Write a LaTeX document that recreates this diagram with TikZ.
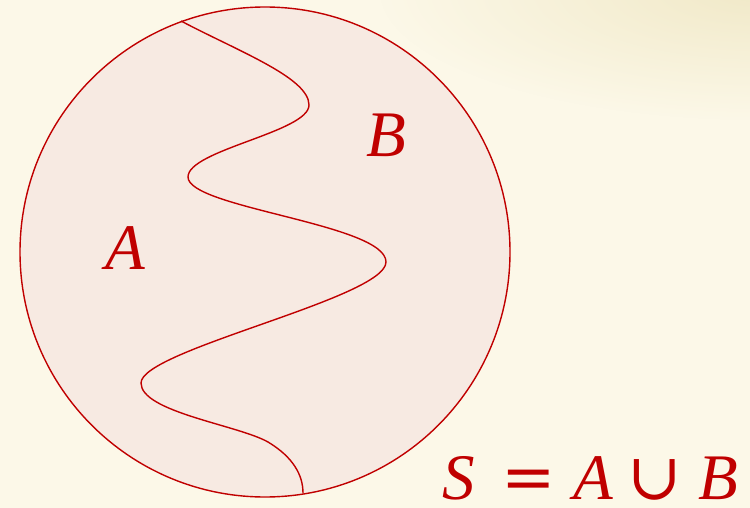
\documentclass[tikz,border=0pt]{standalone}
\usepackage{fontspec}
\setmainfont{Liberation Serif}
\newfontfamily\symf{DejaVu Serif}
\usetikzlibrary{fadings}
\definecolor{bgc}{HTML}{FCF8E8}
\definecolor{topc}{HTML}{F1E9C8}
\definecolor{fillc}{HTML}{F7EAE2}
\definecolor{redc}{HTML}{C00000}
\tikzfading[name=radfade, inner color=transparent!0, outer color=transparent!100]
\tikzset{
  setline/.style={draw=redc, line width=1.4pt},
  lbl/.style={text=redc, inner sep=0pt, font=\fontsize{65}{72}\selectfont\itshape}
}
\begin{document}
\begin{tikzpicture}[x=1pt,y=-1pt]
\useasboundingbox (0,0) rectangle (750,508);
\fill[bgc] (0,0) rectangle (750,508);
\begin{scope}
\clip (0,0) rectangle (750,508);
\fill[topc, path fading=radfade] (760,-10) ellipse [x radius=380, y radius=130];
\end{scope}
\node[circle, fill=fillc, setline, minimum size=490pt, inner sep=0pt] (S) at (265,252) {};
\coordinate (t) at (181,21);
\coordinate (b) at (303,493);
\draw[redc, line width=1.4pt] (t) .. controls (240,52) and (309,78) .. (309,105)
  .. controls (309,132) and (188,150) .. (188,177)
  .. controls (188,208) and (386,224) .. (386,262)
  .. controls (386,298) and (141,350) .. (141,383)
  .. controls (141,412) and (238,425) .. (268,442)
  .. controls (293,457) and (303,475) .. (b);
\node[lbl, anchor=base] (A) at (125,269) {A};
\node[lbl, anchor=base] (B) at (386,157) {B};
\node[lbl, anchor=base east] (eq) at (738,499) {S\hspace{26pt}{\upshape\symf=}\hspace{18pt}A\hspace{14pt}{\upshape\symf ∪}\hspace{16pt}B};
\end{tikzpicture}
\end{document}
